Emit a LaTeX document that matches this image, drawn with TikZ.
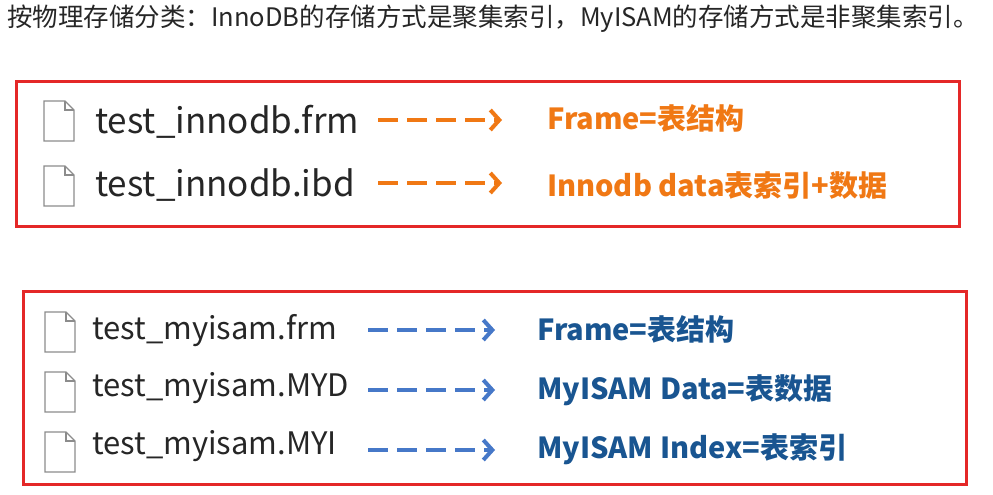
\documentclass[tikz,border=0pt]{standalone}
\usepackage{fontspec}
\setmainfont{Noto Sans CJK SC}
\usetikzlibrary{arrows.meta}
\definecolor{boxred}{RGB}{228,40,40}
\definecolor{org}{RGB}{240,120,20}
\definecolor{dblue}{RGB}{25,85,145}
\definecolor{lblue}{RGB}{70,120,200}
\begin{document}
\begin{tikzpicture}[x=1pt,y=-1pt,
  box/.style={draw=boxred,line width=2.6pt},
  fname/.style={anchor=west,font=\fontsize{35}{35}\selectfont,text=black!85,inner sep=0},
  fname2/.style={anchor=west,font=\fontsize{31}{31}\selectfont,text=black!85,inner sep=0},
  lab/.style={anchor=west,font=\bfseries\fontsize{29}{29}\selectfont,inner sep=0},
  arr/.style={line width=4pt,dash pattern=on 20pt off 9pt,-{Straight Barb[length=9pt,width=20pt,line width=4pt]}},
  icon/.pic={\draw[black!45,line width=1.2pt,fill=white] (0,0)--(21,0)--(30,9)--(30,40)--(0,40)--cycle; \draw[black!45,line width=1.2pt] (21,0)--(21,9)--(30,9);}]
\useasboundingbox (0,0) rectangle (993,495);
\fill[white] (0,0) rectangle (993,495);
\node[anchor=west,inner sep=0,font=\fontsize{25.5}{25.5}\selectfont,text=black!85] (t) at (7,19) {按物理存储分类：InnoDB的存储方式是聚集索引，MyISAM的存储方式是非聚集索引。};
\node[box,minimum width=943pt,minimum height=145pt,anchor=north west] (b1) at (15,80) {};
\node[box,minimum width=943pt,minimum height=193pt,anchor=north west] (b2) at (22,290) {};
% box 1
\pic at (44,101) {icon};
\node[fname] (f1) at (95,122) {test\_innodb.frm};
\node[lab,text=org] (l1) at (547,118) {Frame=表结构};
\pic at (44,166) {icon};
\node[fname] (f2) at (95,185) {test\_innodb.ibd};
\node[lab,text=org] (l2) at (547,186) {Innodb data表索引+数据};
\coordinate (a1s) at (378,120); \coordinate (a1e) at (502,120);
\coordinate (a2s) at (378,183); \coordinate (a2e) at (502,183);
\draw[arr,org] (a1s)--(a1e);
\draw[arr,org] (a2s)--(a2e);
% box 2
\pic at (45,312) {icon};
\node[fname2] (g1) at (92,331) {test\_myisam.frm};
\node[lab,text=dblue] (m1) at (537,329) {Frame=表结构};
\pic at (45,372) {icon};
\node[fname2] (g2) at (92,388) {test\_myisam.MYD};
\node[lab,text=dblue] (m2) at (537,390) {MyISAM Data=表数据};
\pic at (45,432) {icon};
\node[fname2] (g3) at (92,446) {test\_myisam.MYI};
\node[lab,text=dblue] (m3) at (537,449) {MyISAM Index=表索引};
\coordinate (c1s) at (368,330); \coordinate (c1e) at (495,330);
\coordinate (c2s) at (368,390); \coordinate (c2e) at (495,390);
\coordinate (c3s) at (368,450); \coordinate (c3e) at (495,450);
\draw[arr,lblue] (c1s)--(c1e);
\draw[arr,lblue] (c2s)--(c2e);
\draw[arr,lblue] (c3s)--(c3e);
\end{tikzpicture}
\end{document}
